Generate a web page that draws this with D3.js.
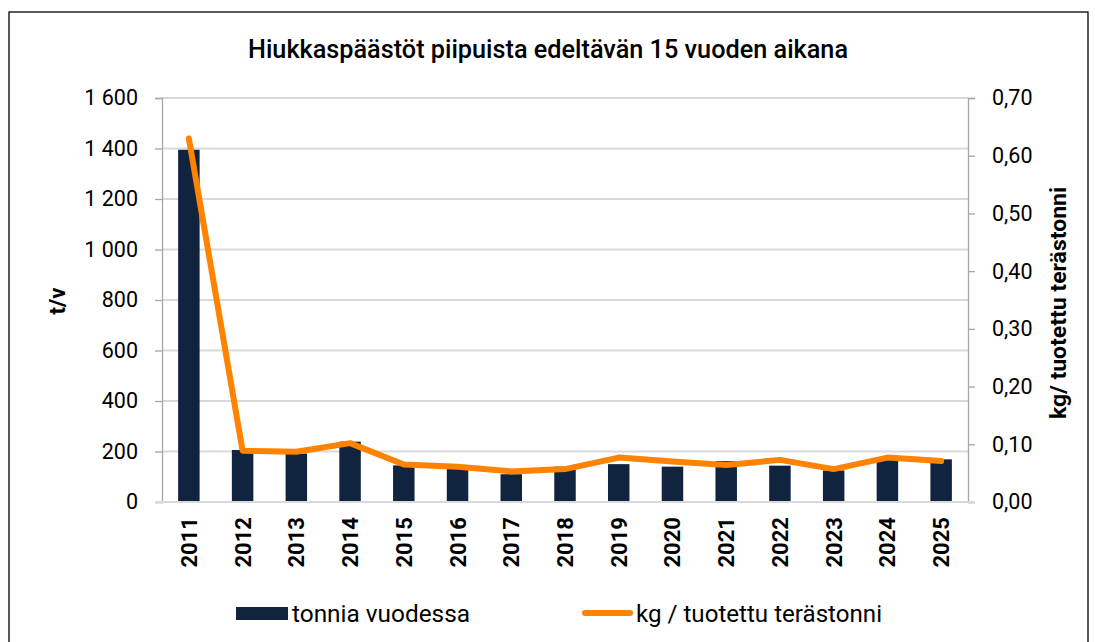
<!doctype html>
<html lang="fi">
<head>
<meta charset="utf-8">
<title>Hiukkaspäästöt piipuista</title>
<script src="https://cdn.jsdelivr.net/npm/d3@7"></script>
<style>
  body { margin: 0; background: #fff; font-family: Roboto, "Noto Sans", sans-serif; }
  #chart { display: block; }
</style>
</head>
<body>
<svg id="chart" width="1095" height="642"></svg>
<script>
// data
var years = ["2011","2012","2013","2014","2015","2016","2017","2018","2019","2020","2021","2022","2023","2024","2025"];
var tonnes = [1395, 206, 192, 239, 145, 145, 110, 140, 150, 140, 162, 144, 125, 166, 169];
var kgPerTonne = [0.630, 0.089, 0.087, 0.102, 0.065, 0.061, 0.053, 0.057, 0.077, 0.070, 0.064, 0.073, 0.057, 0.077, 0.071];
var leftTicks = [0, 200, 400, 600, 800, 1000, 1200, 1400, 1600];
var rightTicks = [0, 0.1, 0.2, 0.3, 0.4, 0.5, 0.6, 0.7];

var svg = d3.select("#chart");
var plotL = 162, plotR = 968, plotT = 98, plotB = 502;

var x = d3.scaleBand().domain(years).range([plotL, plotR]).paddingInner(0.6).paddingOuter(0.3);
var yL = d3.scaleLinear().domain([0, 1600]).range([plotB, plotT]);
var yR = d3.scaleLinear().domain([0, 0.7]).range([plotB, plotT]);
var fmtL = function (d) { return d3.format(",")(d).replace(",", " "); };
var fmtR = function (d) { return d3.format(".2f")(d).replace(".", ","); };

// outer frame
svg.append("rect").attr("x", 9).attr("y", 12).attr("width", 1079).attr("height", 640)
  .attr("fill", "none").attr("stroke", "#000").attr("stroke-width", 1.3);

// title
svg.append("text").attr("x", 548).attr("y", 58).attr("text-anchor", "middle")
  .attr("textLength", 600).attr("lengthAdjust", "spacingAndGlyphs")
  .style("font-size", "25px").style("font-weight", 500)
  .text("Hiukkaspäästöt piipuista edeltävän 15 vuoden aikana");

// gridlines
svg.append("g").selectAll("line").data(leftTicks.slice(1)).enter().append("line")
  .attr("x1", plotL).attr("x2", plotR)
  .attr("y1", function (d) { return yL(d); }).attr("y2", function (d) { return yL(d); })
  .attr("stroke", "#d9d9d9").attr("stroke-width", 2);

// left axis
var gL = svg.append("g").attr("transform", "translate(" + plotL + ",0)")
  .call(d3.axisLeft(yL).tickValues(leftTicks).tickFormat(fmtL).tickSize(7).tickPadding(17));
gL.select(".domain").attr("stroke", "#a6a6a6").attr("stroke-width", 1.3);
gL.selectAll(".tick line").attr("stroke", "#a6a6a6").attr("stroke-width", 1.3);
gL.selectAll("text").style("font-size", "21.5px").style("font-family", "Roboto").attr("fill", "#000");

// right axis
var gR = svg.append("g").attr("transform", "translate(" + plotR + ",0)")
  .call(d3.axisRight(yR).tickValues(rightTicks).tickFormat(fmtR).tickSize(7).tickPadding(17));
gR.select(".domain").attr("stroke", "#a6a6a6").attr("stroke-width", 1.3);
gR.selectAll(".tick line").attr("stroke", "#a6a6a6").attr("stroke-width", 1.3);
gR.selectAll("text").style("font-size", "21.5px").style("font-family", "Roboto").attr("fill", "#000");

// bars
svg.append("g").selectAll("rect").data(years).enter().append("rect")
  .attr("x", function (d) { return x(d); })
  .attr("width", x.bandwidth())
  .attr("y", function (d, i) { return yL(tonnes[i]); })
  .attr("height", function (d, i) { return plotB - yL(tonnes[i]); })
  .attr("fill", "#10243f");

// x axis baseline
svg.append("line").attr("x1", plotL - 7).attr("x2", plotR + 7).attr("y1", plotB).attr("y2", plotB)
  .attr("stroke", "#d9d9d9").attr("stroke-width", 2);

// x labels
svg.append("g").selectAll("text").data(years).enter().append("text")
  .attr("transform", function (d) { return "translate(" + (x(d) + x.bandwidth() / 2 + 8) + ",517) rotate(-90)"; })
  .attr("text-anchor", "end")
  .style("font-size", "22px").style("font-weight", 700)
  .text(function (d) { return d; });

// line series
var line = d3.line()
  .x(function (d, i) { return x(years[i]) + x.bandwidth() / 2; })
  .y(function (d) { return yR(d); });
svg.append("path").datum(kgPerTonne).attr("d", line)
  .attr("fill", "none").attr("stroke", "#ff8200").attr("stroke-width", 6)
  .attr("stroke-linejoin", "round").attr("stroke-linecap", "round");

// axis titles
svg.append("text").attr("transform", "translate(65,301) rotate(-90)").attr("text-anchor", "middle")
  .style("font-size", "22px").style("font-weight", 700).text("t/v");
svg.append("text").attr("transform", "translate(1066,303) rotate(-90)").attr("text-anchor", "middle")
  .attr("textLength", 232).attr("lengthAdjust", "spacingAndGlyphs")
  .style("font-size", "22px").style("font-weight", 700)
  .text("kg/ tuotettu terästonni");

// legend
var lg = svg.append("g");
lg.append("rect").attr("x", 236).attr("y", 607).attr("width", 52).attr("height", 13).attr("fill", "#10243f");
lg.append("text").attr("x", 292).attr("y", 622).attr("textLength", 178).attr("lengthAdjust", "spacingAndGlyphs")
  .style("font-size", "24px").text("tonnia vuodessa");
lg.append("line").attr("x1", 585).attr("x2", 630).attr("y1", 613).attr("y2", 613)
  .attr("stroke", "#ff8200").attr("stroke-width", 6).attr("stroke-linecap", "round");
lg.append("text").attr("x", 636).attr("y", 622).attr("textLength", 246).attr("lengthAdjust", "spacingAndGlyphs")
  .style("font-size", "24px").text("kg / tuotettu terästonni");
</script>
</body>
</html>
